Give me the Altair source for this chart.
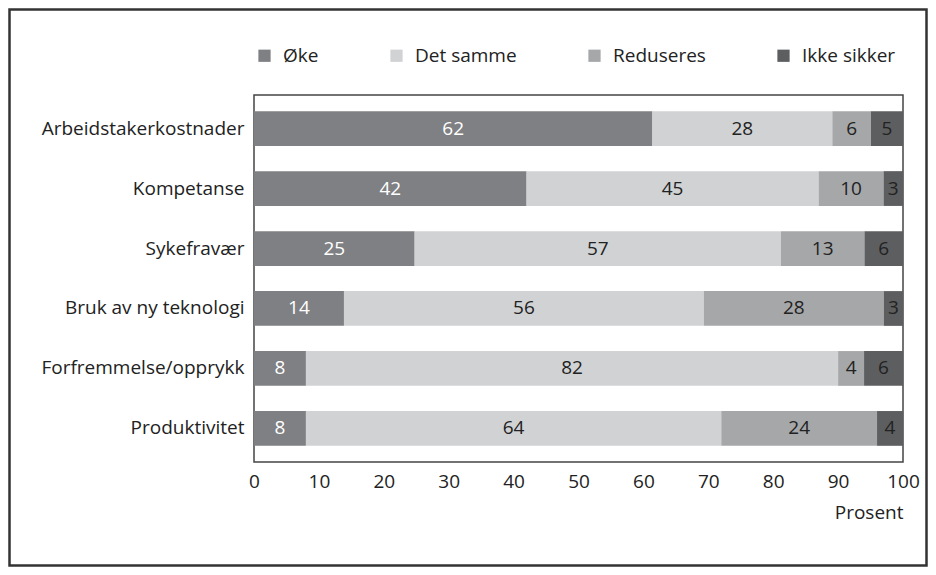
import altair as alt
import pandas as pd

categories = ["Arbeidstakerkostnader", "Kompetanse", "Sykefravær",
              "Bruk av ny teknologi", "Forfremmelse/opprykk", "Produktivitet"]
series = ["Øke", "Det samme", "Reduseres", "Ikke sikker"]
oke = [62, 42, 25, 14, 8, 8]
det_samme = [28, 45, 57, 56, 82, 64]
reduseres = [6, 10, 13, 28, 4, 24]
ikke_sikker = [5, 3, 6, 3, 6, 4]
colors = ["#7f8083", "#d1d2d4", "#a6a7a9", "#5d5e60"]
text_colors = ["#ffffff", "#222222", "#222222", "#222222"]
x_ticks = [0, 10, 20, 30, 40, 50, 60, 70, 80, 90, 100]

rows = []
for s_i, (s, vals) in enumerate(zip(series, [oke, det_samme, reduseres, ikke_sikker])):
    for c, v in zip(categories, vals):
        rows.append({"cat": c, "serie": s, "value": v, "order": s_i, "tc": text_colors[s_i]})
df = pd.DataFrame(rows)

FONT = "Open Sans"
FS = 19
W, H = 649, 367
PAD = {"left": 246, "top": 87, "right": 25, "bottom": 105}

base = alt.Chart(df).transform_stack(
    stack="value", groupby=["cat"], as_=["x0", "x1"],
    sort=[alt.SortField("order", order="ascending")], offset="normalize"
).transform_calculate(mid="(datum.x0 + datum.x1) / 2")

yenc = alt.Y("cat:N", sort=categories, title=None,
             scale=alt.Scale(paddingInner=0.42, paddingOuter=0.27),
             axis=alt.Axis(ticks=False, domain=False, labelPadding=10, labelLimit=400,
                           labelFontSize=FS, labelColor="#222", labelFont=FONT))

bars = base.mark_bar().encode(
    x=alt.X("x0:Q", scale=alt.Scale(domain=[0, 1], nice=False),
            axis=alt.Axis(values=[t / 100 for t in x_ticks],
                          labelExpr="format(datum.value*100, 'd')",
                          labelFlush=False,
                          ticks=False, domain=False, grid=False, labelPadding=10,
                          labelFontSize=FS, labelColor="#222", labelFont=FONT,
                          title="Prosent", titleAnchor="end", titleFontWeight="normal",
                          titleFontSize=FS, titleColor="#222", titleFont=FONT,
                          titlePadding=12)),
    x2="x1:Q",
    y=yenc,
    color=alt.Color("serie:N", sort=series,
                    scale=alt.Scale(domain=series, range=colors),
                    legend=alt.Legend(title=None, orient="none", direction="horizontal",
                                      legendX=1, legendY=-49, symbolType="square",
                                      symbolSize=150, symbolStrokeWidth=0,
                                      labelFontSize=FS, labelFont=FONT, labelColor="#222",
                                      labelLimit=300,
                                      columnPadding=68, symbolOffset=0, labelOffset=9)),
)

labels = base.mark_text(fontSize=FS, font=FONT).encode(
    x=alt.X("mid:Q"),
    y=alt.Y("cat:N", sort=categories),
    text=alt.Text("value:Q"),
    color=alt.Color("tc:N", scale=None),
)

frame = alt.Chart(pd.DataFrame({"a": [0]})).mark_rect(
    fillOpacity=0, stroke="#333", strokeWidth=2.5
).encode(
    x=alt.value(-PAD["left"] + 1.5), x2=alt.value(W + PAD["right"] - 1.5),
    y=alt.value(-PAD["top"] + 1.5), y2=alt.value(H + PAD["bottom"] - 1.5),
)

chart = alt.layer(bars, labels, frame).properties(
    width=W, height=H,
    autosize=alt.AutoSizeParams(type="none"),
    padding=PAD,
    background="white",
).configure_view(stroke="#444", strokeWidth=1.5)

chart.save("out.html", embed_options={"renderer": "svg", "actions": False})
